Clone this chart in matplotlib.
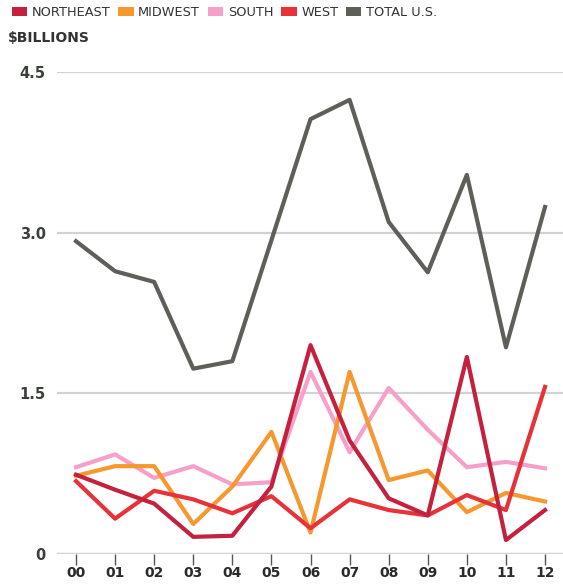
import numpy as np
import matplotlib.pyplot as plt
from matplotlib.patches import Patch

# Years and values ($ billions)
years = ['00', '01', '02', '03', '04', '05', '06', '07', '08', '09', '10', '11', '12']
northeast = [0.74, 0.60, 0.47, 0.16, 0.17, 0.63, 1.95, 1.06, 0.52, 0.36, 1.84, 0.13, 0.41]
midwest = [0.73, 0.82, 0.82, 0.28, 0.63, 1.14, 0.20, 1.70, 0.69, 0.78, 0.39, 0.57, 0.49]
south = [0.81, 0.93, 0.71, 0.82, 0.65, 0.67, 1.70, 0.95, 1.55, 1.16, 0.81, 0.86, 0.80]
west = [0.68, 0.33, 0.59, 0.51, 0.38, 0.54, 0.24, 0.51, 0.41, 0.36, 0.55, 0.41, 1.56]
total = [2.92, 2.64, 2.54, 1.73, 1.80, 2.93, 4.06, 4.24, 3.10, 2.63, 3.54, 1.93, 3.24]

yticks = [0, 1.5, 3.0, 4.5]
ytick_labels = ['0', '1.5', '3.0', '4.5']

colors = {
    'NORTHEAST': '#c4213f',
    'MIDWEST': '#f7982f',
    'SOUTH': '#f6a0c9',
    'WEST': '#e8323a',
    'TOTAL U.S.': '#5e5f59',
}

plt.rcParams['font.family'] = ['DejaVu Sans']

fig = plt.figure(figsize=(5.63, 5.84), dpi=100)
ax = fig.add_axes([0.101, 0.0514, 0.899, 0.8253])

x = np.arange(len(years))
lw = 3.0
ax.plot(x, south, color=colors['SOUTH'], lw=lw, zorder=3, clip_on=False)
ax.plot(x, midwest, color=colors['MIDWEST'], lw=lw, zorder=4, clip_on=False)
ax.plot(x, west, color=colors['WEST'], lw=lw, zorder=5, clip_on=False)
ax.plot(x, northeast, color=colors['NORTHEAST'], lw=lw, zorder=6, clip_on=False)
ax.plot(x, total, color=colors['TOTAL U.S.'], lw=lw, zorder=7, clip_on=False)

ax.set_xlim(-0.49, 12.46)
ax.set_ylim(0, 4.5)

# gridlines
for v in yticks:
    ax.axhline(v, color='#d0d2d4', lw=2.5 if v == 0 else 1.6, zorder=1)

ax.set_yticks(yticks)
ax.set_yticklabels(ytick_labels, fontsize=10.5, color='#3a3f3a', fontweight='semibold')
ax.set_xticks(x)
ax.set_xticklabels(years, fontsize=10, color='#2a2a2a', fontweight='semibold')
ax.tick_params(axis='y', length=0, pad=8)
ax.tick_params(axis='x', length=8, width=1, color='#555555', pad=1)

for s in ax.spines.values():
    s.set_visible(False)

handles = [Patch(facecolor=c, edgecolor='none', label=k) for k, c in colors.items()]
fig.legend(handles=handles, loc='upper left', bbox_to_anchor=(0.0, 1.01), ncol=5,
           frameon=False, fontsize=9.3, handlelength=1.2, handleheight=0.7,
           handletextpad=0.35, columnspacing=0.6, labelcolor='#333333')

fig.text(0.014, 0.928, '$BILLIONS', fontsize=10, color='#333333', fontweight='semibold')

fig.savefig('out.png', dpi=100)
